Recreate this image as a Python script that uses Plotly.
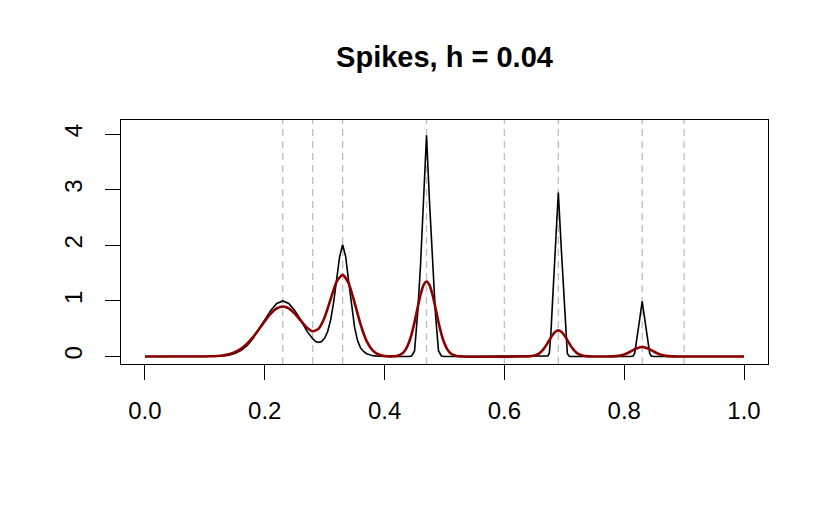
import plotly.graph_objects as go

# --- datos ---
x_true = [0.0, 0.05, 0.10, 0.11, 0.12, 0.13, 0.14, 0.15, 0.16, 0.17, 0.18, 0.19, 0.20,
          0.21, 0.22, 0.23, 0.24, 0.25, 0.26, 0.27, 0.275, 0.28, 0.285, 0.29, 0.295,
          0.30, 0.305, 0.31, 0.315, 0.32, 0.325, 0.33, 0.335, 0.34, 0.345, 0.35, 0.355,
          0.36, 0.365, 0.37, 0.375, 0.38, 0.39, 0.40, 0.44, 0.445, 0.45, 0.455, 0.46,
          0.465, 0.47, 0.475, 0.48, 0.485, 0.49, 0.495, 0.50, 0.67, 0.6725, 0.675,
          0.6775, 0.68, 0.685, 0.69, 0.695, 0.70, 0.7025, 0.705, 0.7075, 0.71, 0.81,
          0.815, 0.8175, 0.82, 0.825, 0.83, 0.835, 0.84, 0.8425, 0.845, 0.85, 1.0]
y_true = [0.0, 0.0, 0.0, 0.002, 0.004, 0.01, 0.024, 0.053, 0.105, 0.19, 0.32, 0.48, 0.66,
          0.83, 0.955, 1.0, 0.955, 0.83, 0.66, 0.46, 0.38, 0.32, 0.27, 0.255, 0.27,
          0.33, 0.45, 0.66, 0.98, 1.38, 1.80, 2.01, 1.80, 1.35, 0.90, 0.52, 0.28,
          0.15, 0.09, 0.05, 0.03, 0.015, 0.005, 0.0, 0.0, 0.01, 0.10, 0.75, 1.65,
          2.78, 3.98, 2.78, 1.65, 0.75, 0.10, 0.01, 0.0, 0.0, 0.01, 0.06,
          0.40, 0.92, 1.93, 2.95, 1.93, 0.92, 0.40, 0.06, 0.01, 0.0, 0.0,
          0.01, 0.06, 0.22, 0.61, 0.99, 0.61, 0.22, 0.06, 0.01, 0.0, 0.0]

x_est = [0.0, 0.10, 0.11, 0.12, 0.13, 0.14, 0.15, 0.16, 0.17, 0.18, 0.19, 0.20, 0.21,
         0.22, 0.23, 0.24, 0.25, 0.26, 0.27, 0.28, 0.29, 0.30, 0.31, 0.32, 0.33, 0.34,
         0.35, 0.36, 0.37, 0.38, 0.39, 0.40, 0.41, 0.42, 0.43, 0.435, 0.44, 0.445,
         0.45, 0.455, 0.46, 0.465, 0.47, 0.475, 0.48, 0.485, 0.49, 0.495, 0.50, 0.505,
         0.51, 0.52, 0.53, 0.63, 0.64, 0.65, 0.655, 0.66, 0.665, 0.67, 0.675, 0.68,
         0.685, 0.69, 0.695, 0.70, 0.705, 0.71, 0.715, 0.72, 0.725, 0.73, 0.74, 0.77,
         0.78, 0.79, 0.80, 0.805, 0.81, 0.815, 0.82, 0.825, 0.83, 0.835, 0.84, 0.845,
         0.85, 0.855, 0.86, 0.87, 0.88, 0.89, 1.0]
y_est = [0.0, 0.001, 0.0035, 0.0085, 0.019, 0.040, 0.076, 0.136, 0.224, 0.343, 0.485,
         0.636, 0.771, 0.866, 0.900, 0.866, 0.773, 0.645, 0.520, 0.453, 0.502, 0.708,
         1.035, 1.348, 1.469, 1.317, 0.963, 0.573, 0.278, 0.110, 0.035, 0.009, 0.003,
         0.010, 0.059, 0.123, 0.233, 0.398, 0.618, 0.870, 1.111, 1.286, 1.350, 1.286,
         1.111, 0.870, 0.618, 0.398, 0.233, 0.123, 0.059, 0.010, 0.001, 0.0, 0.003,
         0.017, 0.037, 0.072, 0.128, 0.204, 0.294, 0.382, 0.446, 0.470, 0.446, 0.382,
         0.294, 0.204, 0.128, 0.072, 0.037, 0.017, 0.003, 0.0, 0.002, 0.011, 0.036,
         0.058, 0.085, 0.115, 0.143, 0.163, 0.170, 0.163, 0.143, 0.115, 0.085, 0.058,
         0.036, 0.011, 0.002, 0.0, 0.0]

v_lines = [0.23, 0.28, 0.33, 0.47, 0.6, 0.69, 0.83, 0.9]
x_ticks = [0.0, 0.2, 0.4, 0.6, 0.8, 1.0]
y_ticks = [0, 1, 2, 3, 4]

fuente = "Liberation Sans, Arial, sans-serif"

fig = go.Figure()
fig.add_trace(go.Scatter(x=x_true, y=y_true, mode="lines",
                         line=dict(color="black", width=1.6)))
fig.add_trace(go.Scatter(x=x_est, y=y_est, mode="lines",
                         line=dict(color="#8B0000", width=2.6, shape="spline", smoothing=0.6)))

for v in v_lines:
    fig.add_shape(type="line", x0=v, x1=v, xref="x", y0=0, y1=1, yref="paper",
                  line=dict(color="#BEBEBE", width=1.3, dash="7px,5px"), layer="below")

eje = dict(showline=True, linecolor="black", linewidth=1, mirror=True, ticks="outside",
           ticklen=15, tickwidth=1, tickcolor="black", showgrid=False, zeroline=False,
           tickfont=dict(family=fuente, size=24, color="black"))

fig.update_xaxes(range=[-0.04, 1.04], tickvals=x_ticks, ticktext=[f"{t:.1f}" for t in x_ticks],
                 ticklabelstandoff=10, **eje)
fig.update_yaxes(range=[-0.135, 4.255], tickvals=y_ticks, tickangle=-90,
                 ticklabelstandoff=13, **eje)

# la página deja 8px de margen: se descuentan aquí
fig.update_layout(
    width=830, height=516,
    margin=dict(l=113, r=70, t=112, b=160),
    paper_bgcolor="white", plot_bgcolor="white",
    showlegend=False,
    title=dict(text="<b>Spikes, h = 0.04</b>", x=0.5, xref="paper", xanchor="center",
               y=1 - 49 / 516, yref="container", yanchor="middle",
               font=dict(family=fuente, size=29, color="black")),
)

fig.write_html("out.html")
